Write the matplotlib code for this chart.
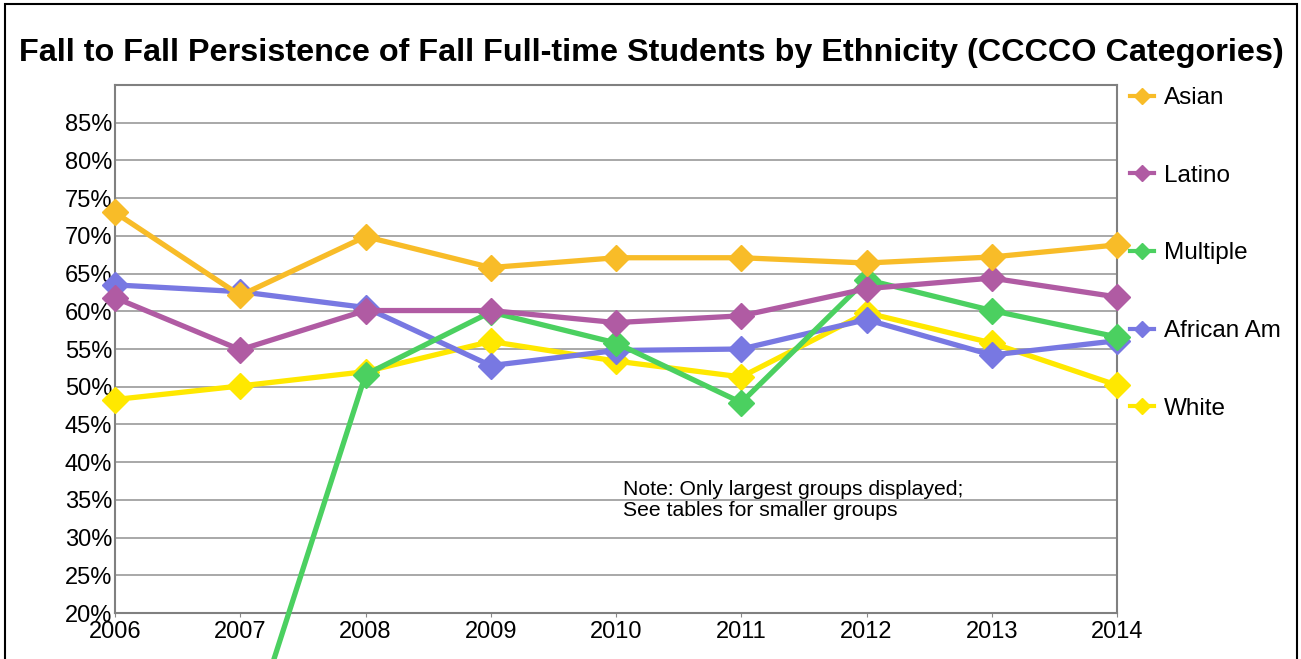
import numpy as np
import matplotlib.pyplot as plt
from matplotlib.patches import Rectangle
from matplotlib.ticker import FuncFormatter

plt.rcParams['font.family'] = ['Liberation Sans', 'DejaVu Sans']

years = [2006, 2007, 2008, 2009, 2010, 2011, 2012, 2013, 2014]
asian = [73.1, 62.1, 69.9, 65.8, 67.1, 67.1, 66.4, 67.2, 68.8]
latino = [61.8, 54.9, 60.1, 60.1, 58.5, 59.4, 63.0, 64.4, 61.9]
multiple = [np.nan, 0.0, 51.6, 59.9, 55.8, 47.9, 64.2, 60.1, 56.6]
african_am = [63.5, 62.6, 60.5, 52.8, 54.8, 55.0, 58.9, 54.2, 56.1]
white = [48.3, 50.1, 52.0, 56.0, 53.4, 51.3, 59.8, 55.8, 50.2]

series = [
    ("Asian", asian, "#F8BC28"),
    ("Latino", latino, "#B05BA3"),
    ("Multiple", multiple, "#4BD060"),
    ("African Am", african_am, "#7878E2"),
    ("White", white, "#FFE800"),
]

fig = plt.figure(figsize=(13.01, 6.59), dpi=100)
ax = fig.add_axes([0.0884, 0.0698, 0.7702, 0.8012])

# draw in reverse so Asian ends up on top
for i, (name, vals, col) in enumerate(reversed(series)):
    ax.plot(years, vals, color=col, lw=3.8, marker="D", ms=13,
            clip_on=False, zorder=3 + i)

ax.set_xlim(2006, 2014)
ax.set_ylim(20, 90)
ax.set_xticks(years)
ax.set_yticks(range(20, 90, 5))
ax.yaxis.set_major_formatter(FuncFormatter(lambda v, p: f"{v:.0f}%"))
ax.tick_params(axis="both", labelsize=17, colors="black")
ax.tick_params(axis="y", length=0, pad=2)
ax.tick_params(axis="x", length=3, pad=3, color="#888888")
ax.grid(axis="y", color="#999999", lw=1.2)
ax.set_axisbelow(True)
for s in ax.spines.values():
    s.set_color("#808080")
    s.set_linewidth(1.5)

fig.text(0.501, 0.908, "Fall to Fall Persistence of Fall Full-time Students by Ethnicity (CCCCO Categories)",
         ha="center", va="baseline", fontsize=23.3, fontweight="bold")

ax.text(0.507, 0.214, "Note: Only largest groups displayed;\nSee tables for smaller groups",
        transform=ax.transAxes, fontsize=15.2, va="center", linespacing=1.1)

# legend at the right
handles = [plt.Line2D([], [], color=c, lw=3, marker="D", ms=8) for _, _, c in series]
leg = fig.legend(handles, [n for n, _, _ in series], loc="upper left",
                 bbox_to_anchor=(0.8517, 0.901), frameon=False, fontsize=17.5,
                 labelspacing=2.29, handlelength=1.0, handletextpad=0.4)

# outer frame
fig.patches.append(Rectangle((0.004, -0.1), 0.993, 1.094, transform=fig.transFigure,
                             fill=False, ec="black", lw=1.5))

fig.savefig("out.png", dpi=100)
